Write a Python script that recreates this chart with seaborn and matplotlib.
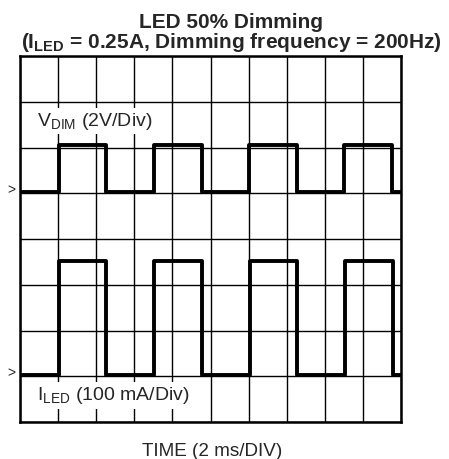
import matplotlib
matplotlib.use("Agg")
import matplotlib.pyplot as plt
import seaborn as sns
import pandas as pd

# ---- data (divisions) ----
vdim_edges = [0.0, 1.02, 2.27, 3.51, 4.77, 6.01, 7.28, 8.50, 9.76, 10.0]
vdim_low = 5.03
vdim_high = 6.05
iled_edges = [0.0, 1.02, 2.27, 3.51, 4.77, 6.03, 7.28, 8.53, 9.78, 10.0]
iled_low = 1.03
iled_high = 3.53
n_xdiv = 10
n_ydiv = 8

title_line1 = "LED 50% Dimming"
title_line2 = r"(I$_{\mathbf{LED}}$ = 0.25A, Dimming frequency = 200Hz)"
vdim_label = r"V$_{\mathrm{DIM}}$ (2V/Div)"
iled_label = r"I$_{\mathrm{LED}}$ (100 mA/Div)"
xlabel = "TIME (2 ms/DIV)"


def steps(edges, low, high):
    levels = [low if i % 2 == 0 else high for i in range(len(edges) - 1)]
    levels.append(levels[-1])
    return edges, levels


sns.set_style("white")
plt.rcParams["font.family"] = ["Liberation Sans", "DejaVu Sans"]
plt.rcParams["mathtext.fontset"] = "custom"
plt.rcParams["mathtext.rm"] = "Liberation Sans"
plt.rcParams["mathtext.bf"] = "Liberation Sans:bold"

rows = []
for name, (e, lo, hi) in {"VDIM": (vdim_edges, vdim_low, vdim_high),
                          "ILED": (iled_edges, iled_low, iled_high)}.items():
    t, lv = steps(e, lo, hi)
    for a, b in zip(t, lv):
        rows.append({"time": a, "level": b, "trace": name})
df = pd.DataFrame(rows)

W, H = 449, 459
fig = plt.figure(figsize=(W / 100, H / 100), dpi=100)
ax = fig.add_axes([20 / W, (H - 422) / H, 381 / W, 366 / H])

sns.lineplot(data=df, x="time", y="level", units="trace", estimator=None,
             sort=False, color="black", linewidth=2.8, drawstyle="steps-post",
             ax=ax, legend=False, zorder=3)

ax.set_xlim(0, n_xdiv)
ax.set_ylim(0, n_ydiv)
ax.set_xticks(range(n_xdiv + 1))
ax.set_yticks(range(n_ydiv + 1))
ax.tick_params(length=0, labelbottom=False, labelleft=False)
ax.grid(True, color="black", linewidth=1.0)
ax.set_axisbelow(True)
for s in ax.spines.values():
    s.set_visible(True)
    s.set_color("black")
    s.set_linewidth(1.8)
    s.set_zorder(5)
ax.set_xlabel("")
ax.set_ylabel("")

# ground markers
for lvl in (vdim_low, iled_low):
    ax.annotate(">", xy=(0, lvl), xytext=(-3.5, 1), textcoords="offset points",
                ha="right", va="center", fontsize=10, annotation_clip=False)


def px_to_div(py):
    return (422 - py) / 45.75


box = dict(facecolor="white", edgecolor="none", boxstyle="square,pad=0.15")
ax.text(0.44, px_to_div(125.5), vdim_label, fontsize=14, ha="left",
        va="baseline", bbox=box, zorder=4)
ax.text(0.44, px_to_div(400), iled_label, fontsize=14, ha="left",
        va="baseline", bbox=box, zorder=4)

fig.text(231 / W, 1 - 28 / H, title_line1, fontsize=15, fontweight="bold",
         ha="center", va="baseline")
fig.text(231 / W, 1 - 47.5 / H, title_line2, fontsize=15, fontweight="bold",
         ha="center", va="baseline")
fig.text(211.7 / W, 1 - 456.5 / H, xlabel, fontsize=13.6, ha="center",
         va="baseline")

fig.savefig("out.png", dpi=100)
